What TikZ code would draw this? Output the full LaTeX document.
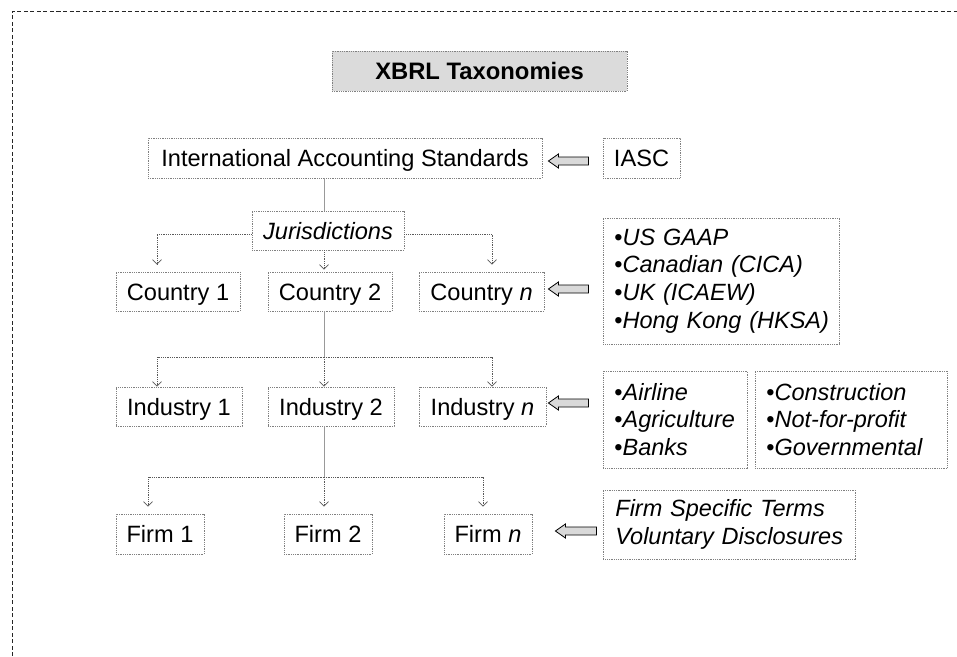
\documentclass[tikz,border=0pt]{standalone}
\usepackage{fontspec}
\setmainfont{Liberation Sans}
\usetikzlibrary{arrows.meta,calc}
\newcommand{\lst}[1]{\mbox{{\upshape •}#1}}
\begin{document}
\begin{tikzpicture}[x=1pt,y=-1pt,
  box/.style={draw=black!50, densely dotted, line width=0.8pt, inner sep=0pt, align=center,
    text height=17pt, text depth=0pt, font=\fontsize{23.6}{28.3}\selectfont},
  listbox/.style={draw=black!50, densely dotted, line width=0.8pt, inner ysep=0pt, inner xsep=11pt,
    align=left, anchor=west, font=\fontsize{23.5}{27.7}\selectfont\itshape},
  trunk/.style={draw=black!40, line width=0.9pt},
  branch/.style={draw=black!65, densely dotted, line width=0.8pt},
  tipped/.style={-{Straight Barb[length=4.5pt,width=9pt,line width=0.7pt]}},
  blockarr/.style={draw=black, line width=0.8pt, fill=black!15, line join=miter},
  frame/.style={draw=black!85, line width=0.9pt, dash pattern=on 4pt off 2.5pt},
]
\useasboundingbox (0,0) rectangle (957,656);
\draw[frame] (12.5,656) -- (12.5,11) -- (957,11);

% nodes
\node[box, minimum width=295pt, minimum height=40pt, fill=black!14,
  font=\fontsize{23.8}{28.5}\selectfont\bfseries] (title) at (479.5,71) {XBRL Taxonomies};
\node[box, minimum width=394pt, minimum height=40pt] (ias) at (345,158) {International Accounting Standards};
\node[box, minimum width=77pt, minimum height=40pt] (iasc) at (641.5,158) {IASC};
\node[box, minimum width=152pt, minimum height=39pt, font=\fontsize{23.6}{28.3}\selectfont\itshape] (jur) at (328,230.5) {Jurisdictions};

\node[box, minimum width=124pt, minimum height=39pt] (c1) at (178,291.5) {Country 1};
\node[box, minimum width=124pt, minimum height=39pt] (c2) at (330,291.5) {Country 2};
\node[box, minimum width=125pt, minimum height=39pt] (cn) at (481.5,291.5) {Country \textit{n}};
\node[listbox, text width=214pt, minimum height=126pt] (cntry) at (603,281)
  {\lst{US GAAP}\\\lst{Canadian (CICA)}\\\lst{UK (ICAEW)}\\\lst{Hong Kong (HKSA)}};

\node[box, minimum width=126pt, minimum height=39pt] (i1) at (179,406.5) {Industry 1};
\node[box, minimum width=126pt, minimum height=39pt] (i2) at (331,406.5) {Industry 2};
\node[box, minimum width=127pt, minimum height=39pt] (indn) at (482.5,406.5) {Industry \textit{n}};
\node[listbox, text width=122pt, minimum height=97pt] (inda) at (603,419.5)
  {\lst{Airline}\\\lst{Agriculture}\\\lst{Banks}};
\node[listbox, text width=170pt, minimum height=97pt] (indb) at (755,419.5)
  {\lst{Construction}\\\lst{Not-for-profit}\\\lst{Governmental}};

\node[box, minimum width=88pt, minimum height=40pt] (f1) at (160,534) {Firm 1};
\node[box, minimum width=88pt, minimum height=40pt] (f2) at (328,534) {Firm 2};
\node[box, minimum width=88pt, minimum height=40pt] (fn) at (488,534) {Firm \textit{n}};
\node[listbox, inner xsep=12pt, text width=228pt, minimum height=69pt] (fst) at (603,524.5)
  {\mbox{Firm Specific Terms}\\\mbox{Voluntary Disclosures}};

% column coordinates
\coordinate (xL) at (157,0);
\coordinate (xR) at (492,0);
\coordinate (xM) at (324,0);
\coordinate (xFL) at (148,0);
\coordinate (xFR) at (483,0);
\coordinate (hub1) at (324,357);
\coordinate (hub2) at (324,477);

% connectors
\draw[trunk] (xM |- ias.south) -- (xM |- jur.north);
\draw[branch, tipped, shorten >=7pt] ($(jur.west)+(0,3.5)$) -| (xL |- c1.north);
\draw[branch, tipped, shorten >=7pt] ($(jur.east)+(0,3.5)$) -| (xR |- cn.north);
\draw[branch, tipped, shorten >=2pt] (xM |- jur.south) -- (xM |- c2.north);

\draw[trunk] (xM |- c2.south) -- (hub1);
\draw[branch, tipped] (hub1) -| (xL |- i1.north);
\draw[branch, tipped] (hub1) -| (xR |- indn.north);
\draw[branch, tipped] (hub1) -- (xM |- i2.north);

\draw[trunk] (xM |- i2.south) -- (hub2);
\draw[branch, tipped, shorten >=7pt] (hub2) -| (xFL |- f1.north);
\draw[branch, tipped, shorten >=7pt] (hub2) -| (xFR |- fn.north);
\draw[branch, tipped, shorten >=7pt] (hub2) -- (xM |- f2.north);

% block arrows
\draw[blockarr] ($(ias.east)+(6,3)$) -- ++(10,-7) -- ++(0,3) -- ++(30,0) -- ++(0,8) -- ++(-30,0) -- ++(0,3) -- cycle;
\draw[blockarr] ($(cn.east)+(4,-2.5)$) -- ++(10,-7) -- ++(0,3) -- ++(30,0) -- ++(0,8) -- ++(-30,0) -- ++(0,3) -- cycle;
\draw[blockarr] ($(indn.east)+(2,-3.5)$) -- ++(10,-7) -- ++(0,3) -- ++(30,0) -- ++(0,8) -- ++(-30,0) -- ++(0,3) -- cycle;
\draw[blockarr] ($(fn.east)+(23,-3)$) -- ++(10,-7) -- ++(0,3) -- ++(31,0) -- ++(0,8) -- ++(-31,0) -- ++(0,3) -- cycle;
\end{tikzpicture}
\end{document}
